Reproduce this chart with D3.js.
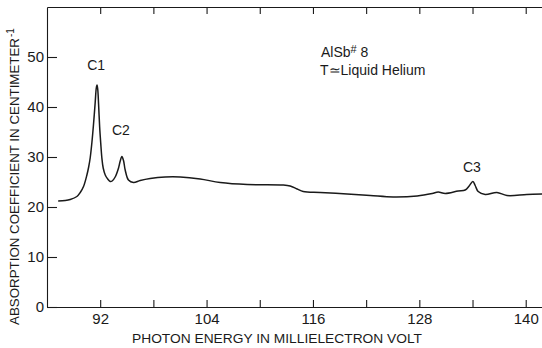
<!DOCTYPE html>
<html>
<head>
<meta charset="utf-8">
<script src="https://cdn.jsdelivr.net/npm/d3@7"></script>
<style>
  body { margin: 0; background: #fff; }
  text { font-family: "Liberation Sans", Arial, sans-serif; fill: #1a1a1a; }
</style>
</head>
<body>
<div id="vis"></div>
<script>
// AlSb #8 absorption spectrum, liquid helium temperature

const width = 542;
const height = 348;

// photon energy (meV) and absorption coefficient (cm^-1)
const energy = [87.26, 88.05, 88.62, 89.37, 89.75, 90.12, 90.50, 90.70, 90.87, 91.07,
    91.24, 91.44, 91.56, 91.64, 91.72, 91.82, 91.94, 92.06, 92.19, 92.34, 92.57, 92.85,
    93.13, 93.35, 93.69, 94.07, 94.26, 94.45, 94.63, 94.82, 95.19, 95.76,
    96.51, 97.64, 99.33, 101.03, 103.28, 105.54, 108.58, 112.64, 113.43, 114.22,
    114.90, 116.82, 119.86, 122.46, 125.05, 127.76, 129.45, 130.13, 130.92, 132.38,
    133.17, 133.62, 134.04, 134.30, 134.64, 135.43, 136.75, 137.88, 140.13, 141.86];
const absorption = [21.2, 21.3, 21.5, 22.1, 22.9, 24.1, 26.4, 28.0, 29.8, 33.0,
    36.4, 41.0, 43.8, 44.4, 43.6, 40.5, 36.0, 32.8, 29.8, 27.8, 26.4, 25.6,
    25.1, 25.2, 26.0, 27.8, 29.2, 30.1, 29.3, 27.4, 25.4, 24.9,
    25.3, 25.7, 26.0, 26.0, 25.6, 24.9, 24.5, 24.4, 24.2, 23.6,
    23.1, 22.9, 22.6, 22.3, 22.0, 22.2, 22.7, 23.0, 22.7, 23.2,
    23.4, 24.2, 25.1, 24.3, 23.1, 22.5, 22.9, 22.3, 22.5, 22.6];

const xTicks = [92, 98, 104, 110, 116, 122, 128, 134, 140];
const xLabels = [92, 104, 116, 128, 140];
const yTicks = [0, 10, 20, 30, 40, 50];

const peakNames = ["C1", "C2", "C3"];
const peakEnergy = [91.65, 94.45, 134.05];
const peakLabelY = [47.5, 34.5, 27];

const margins = {top: 7, bottom: 41, left: 47};

const x = d3.scaleLinear().domain([86, 142]).range([margins.left, margins.left + 56 * 8.865]);
const y = d3.scaleLinear().domain([0, 60]).range([height - margins.bottom, margins.top]);

const svg = d3.select("#vis").append("svg")
    .attr("width", width).attr("height", height);

const ink = "#1a1a1a";

// bottom axis, ticks pointing inward
const xAxisG = svg.append("g").attr("class", "x axis")
    .attr("transform", `translate(0, ${y(0)})`)
    .call(d3.axisBottom(x).tickValues(xTicks).tickSize(-7).tickSizeOuter(0).tickPadding(6)
        .tickFormat(d => xLabels.includes(d) ? d : ""));

// top border with ticks
const topAxisG = svg.append("g").attr("class", "x axis top")
    .attr("transform", `translate(0, ${y(60)})`)
    .call(d3.axisTop(x).tickValues(xTicks).tickSize(-7).tickSizeOuter(0).tickFormat(""));

// left axis
const yAxisG = svg.append("g").attr("class", "y axis")
    .attr("transform", `translate(${x(86)}, 0)`)
    .call(d3.axisLeft(y).tickValues(yTicks).tickSize(-10).tickSizeOuter(0).tickPadding(3));

svg.selectAll(".axis path, .axis line").attr("stroke", ink).attr("stroke-width", 1.1);
svg.selectAll(".axis text").attr("font-size", 15).attr("fill", ink)
    .style("font-family", "'Liberation Sans', Arial, sans-serif");

// spectrum
const line = d3.line().x((d, i) => x(energy[i])).y(d => y(d)).curve(d3.curveCatmullRom.alpha(0.5));
svg.append("path").datum(absorption)
    .attr("d", line)
    .attr("fill", "none")
    .attr("stroke", ink)
    .attr("stroke-width", 1.5);

// peak labels
svg.selectAll("text.peak").data(peakNames).enter().append("text")
    .attr("class", "peak")
    .attr("x", (d, i) => x(peakEnergy[i]) - 1)
    .attr("y", (d, i) => y(peakLabelY[i]))
    .attr("text-anchor", "middle")
    .attr("font-size", 14)
    .text(d => d);

// sample annotation
const note = svg.append("text").attr("x", 321).attr("y", 57).attr("font-size", 14);
note.append("tspan").text("AlSb");
note.append("tspan").attr("font-size", 11).attr("dy", -4).text("#");
note.append("tspan").attr("dy", 4).text(" 8");
svg.append("text").attr("x", 320).attr("y", 75).attr("font-size", 14)
    .text("T\u2243Liquid Helium");

// axis titles
svg.append("text")
    .attr("x", 277).attr("y", 343)
    .attr("text-anchor", "middle")
    .attr("font-size", 13.5)
    .attr("textLength", 290).attr("lengthAdjust", "spacingAndGlyphs")
    .text("PHOTON ENERGY IN MILLIELECTRON VOLT");

svg.append("text")
    .attr("transform", "translate(19, 325) rotate(-90)")
    .attr("font-size", 13.5)
    .attr("textLength", 287).attr("lengthAdjust", "spacingAndGlyphs")
    .text("ABSORPTION COEFFICIENT IN CENTIMETER");
svg.append("text")
    .attr("transform", "translate(14, 37) rotate(-90)")
    .attr("font-size", 10)
    .text("-1");
</script>
</body>
</html>
